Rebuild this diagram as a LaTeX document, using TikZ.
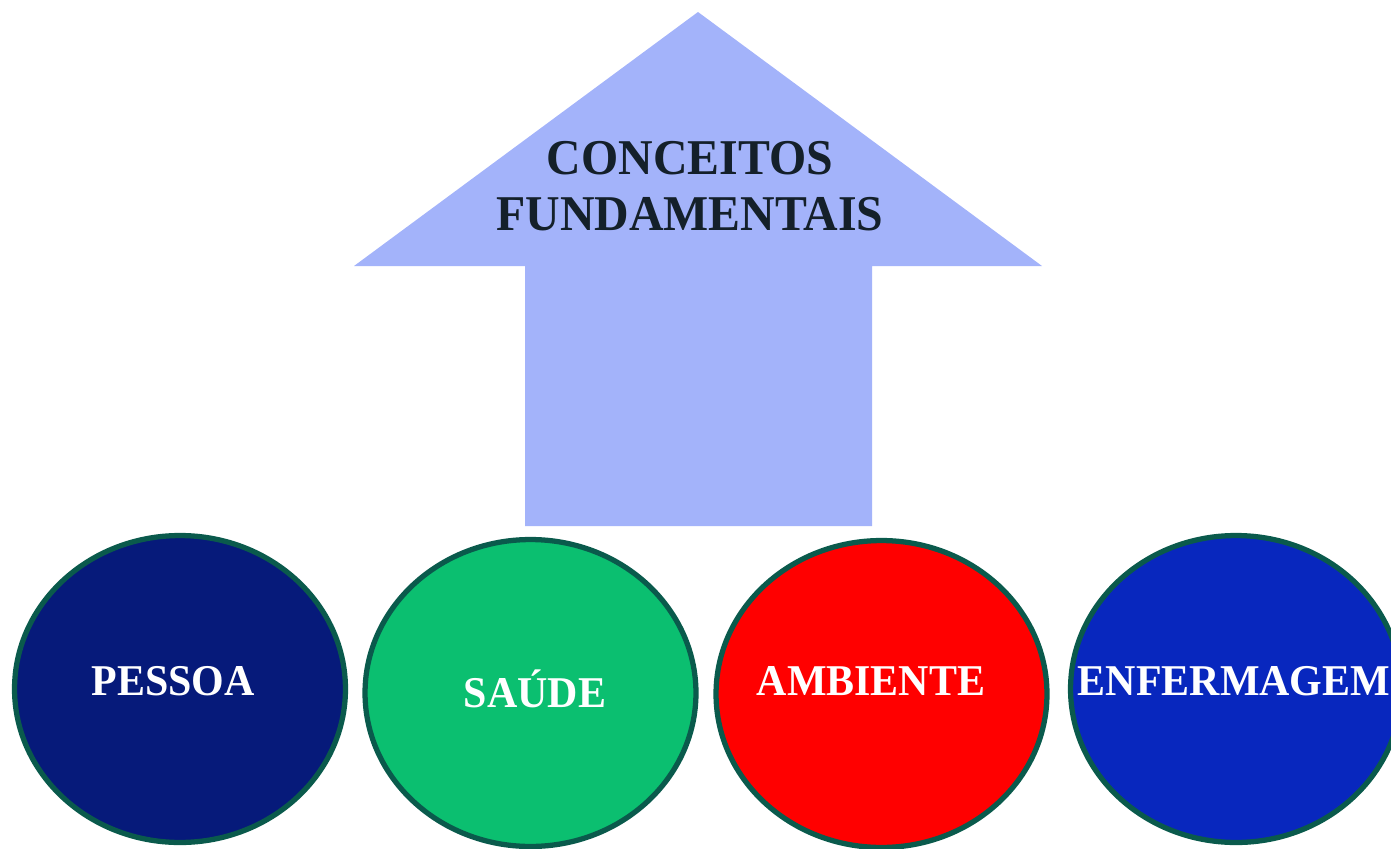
\documentclass[tikz,border=0pt]{standalone}
\usepackage{fontspec}
\setmainfont{Liberation Serif}[FakeStretch=0.955]
\usetikzlibrary{positioning}
\usetikzlibrary{shapes}

\definecolor{arrowblue}{HTML}{A3B3FA}
\definecolor{rimgreen}{HTML}{0A5A4C}
\definecolor{titledark}{HTML}{14202A}
\definecolor{pessoablue}{HTML}{061A7A}
\definecolor{saudegreen}{HTML}{0BBF70}
\definecolor{ambientered}{HTML}{FF0000}
\definecolor{enfblue}{HTML}{0827BE}

\begin{document}
\begin{tikzpicture}[x=0.02cm, y=-0.02cm]
	\tikzstyle{concept}=[ellipse, draw=rimgreen, line width=3pt, minimum width=6.62cm, minimum height=6.14cm, inner sep=0pt]
	\tikzstyle{conceptLabel}=[text=white, font=\bfseries\fontsize{25}{30}\selectfont, inner sep=0pt]
	\useasboundingbox (0,0) rectangle (1391,848);
	\clip (0,0) rectangle (1391,848);

	\fill[arrowblue] (698,12) -- (1042,266) -- (872,266) -- (872,526) -- (525,526) -- (525,266) -- (354,266) -- cycle;
	\node[text=titledark, align=center, font=\bfseries\fontsize{28.5}{32}\selectfont, inner sep=0pt] (title) at (690,186) {CONCEITOS\\FUNDAMENTAIS};

	\node[concept, fill=pessoablue] (pessoa) at (180,689) {};
	\node[concept, fill=saudegreen] (saude) at (530.5,693) {};
	\node[concept, fill=ambientered] (ambiente) at (881.5,694) {};
	\node[concept, fill=enfblue] (enfermagem) at (1236,689) {};

	\node[conceptLabel] (pessoaLabel) at (173,681) {PESSOA};
	\node[conceptLabel] (saudeLabel) at (535,689) {SAÚDE};
	\node[conceptLabel] (ambienteLabel) at (871,681) {AMBIENTE};
	\node[conceptLabel] (enfermagemLabel) at (1234,681) {ENFERMAGEM};
\end{tikzpicture}
\end{document}
